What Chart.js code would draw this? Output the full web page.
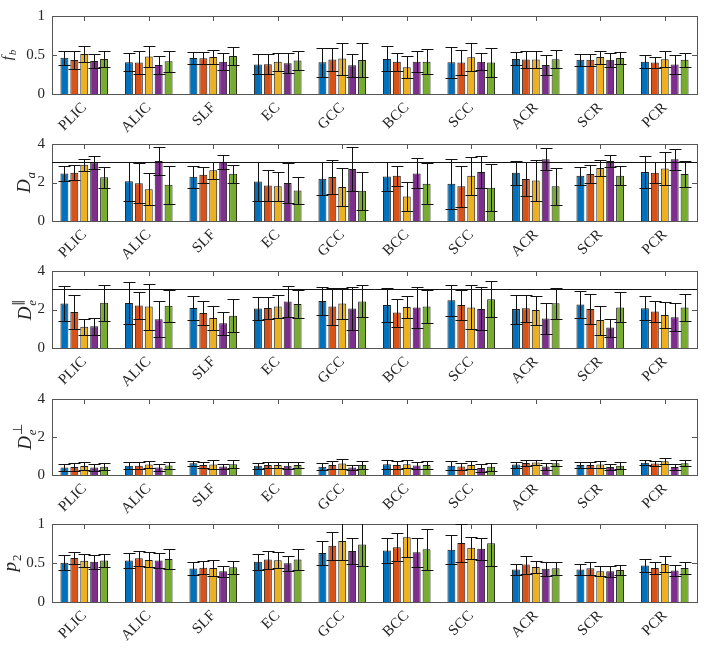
<!DOCTYPE html>
<html>
<head>
<meta charset="utf-8">
<script src="https://cdn.jsdelivr.net/npm/chart.js@4.4.0/dist/chart.umd.min.js"></script>
<style>
  body { margin: 0; background: #fff; }
  #wrap { position: relative; width: 704px; height: 650px; }
  #wrap canvas { position: absolute; left: 0; }
</style>
</head>
<body>
<div id="wrap">
  <canvas id="p1" width="704" height="134" style="top:0px"></canvas>
  <canvas id="p2" width="704" height="133" style="top:128px"></canvas>
  <canvas id="p3" width="704" height="133" style="top:255px"></canvas>
  <canvas id="p4" width="704" height="132" style="top:383px"></canvas>
  <canvas id="p5" width="704" height="134" style="top:508px"></canvas>
</div>
<script>
// regions of interest
var regions = ["PLIC", "ALIC", "SLF", "EC", "GCC", "BCC", "SCC", "ACR", "SCR", "PCR"];
var colors = ['#0072BD', '#D95319', '#EDB120', '#7E2F8E', '#77AC30'];

// f_b  (one row per method, one value per region)
var fbMean = [
  [0.466, 0.407, 0.462, 0.379, 0.407, 0.45, 0.407, 0.45, 0.439, 0.415],
  [0.435, 0.403, 0.458, 0.383, 0.443, 0.415, 0.403, 0.443, 0.439, 0.403],
  [0.514, 0.482, 0.474, 0.415, 0.455, 0.344, 0.47, 0.443, 0.474, 0.447],
  [0.423, 0.372, 0.415, 0.395, 0.368, 0.415, 0.415, 0.372, 0.439, 0.379],
  [0.45, 0.419, 0.486, 0.431, 0.435, 0.415, 0.403, 0.447, 0.462, 0.439]
];
var fbStd = [
  [0.09, 0.113, 0.077, 0.128, 0.184, 0.16, 0.2, 0.083, 0.075, 0.08],
  [0.12, 0.147, 0.077, 0.125, 0.15, 0.115, 0.162, 0.105, 0.075, 0.075],
  [0.1, 0.13, 0.09, 0.117, 0.205, 0.139, 0.18, 0.105, 0.083, 0.1],
  [0.093, 0.118, 0.105, 0.127, 0.145, 0.13, 0.108, 0.125, 0.093, 0.118],
  [0.105, 0.137, 0.118, 0.124, 0.215, 0.162, 0.188, 0.119, 0.075, 0.087]
];

// D_a
var daMean = [
  [2.47, 2.06, 2.3, 2.05, 2.2, 2.31, 1.94, 2.51, 2.35, 2.54],
  [2.51, 1.96, 2.4, 1.85, 2.28, 2.35, 1.8, 2.18, 2.44, 2.51],
  [2.92, 1.65, 2.63, 1.8, 1.77, 1.27, 2.35, 2.1, 2.75, 2.73],
  [3.05, 3.12, 3.08, 1.97, 2.7, 2.47, 2.54, 3.21, 3.12, 3.21],
  [2.27, 1.88, 2.45, 1.58, 1.57, 1.93, 1.73, 1.8, 2.35, 2.44]
];
var daStd = [
  [0.37, 1.0, 0.57, 1.01, 0.87, 0.77, 1.3, 0.63, 0.48, 0.82],
  [0.4, 1.03, 0.43, 0.81, 0.9, 0.52, 1.05, 0.87, 0.46, 0.56],
  [0.3, 0.84, 0.45, 0.77, 0.98, 0.77, 1.0, 1.07, 0.42, 0.84],
  [0.35, 0.74, 0.37, 1.03, 1.13, 0.78, 0.83, 0.58, 0.29, 0.55],
  [0.56, 1.0, 0.48, 0.68, 1.0, 1.07, 1.23, 0.97, 0.49, 0.69]
];

// D_e parallel
var dparMean = [
  [2.31, 2.34, 2.08, 2.05, 2.44, 2.23, 2.48, 2.02, 2.26, 2.06],
  [1.87, 2.21, 1.82, 2.08, 2.16, 1.84, 2.23, 2.06, 2.02, 1.9],
  [1.1, 2.15, 1.56, 2.15, 2.31, 2.13, 2.11, 1.97, 1.45, 1.71],
  [1.13, 1.5, 1.29, 2.42, 2.05, 2.1, 2.03, 1.53, 1.06, 1.6],
  [2.35, 2.19, 1.68, 2.29, 2.42, 2.16, 2.53, 2.32, 2.11, 2.1]
];
var dparStd = [
  [0.9, 1.1, 0.64, 0.62, 0.74, 0.87, 0.8, 0.75, 0.72, 0.62],
  [0.9, 0.69, 0.6, 0.59, 0.96, 0.73, 0.76, 0.69, 0.76, 0.53],
  [0.43, 1.19, 0.64, 0.58, 0.8, 0.57, 1.14, 0.75, 0.75, 0.67],
  [0.45, 0.92, 0.59, 0.82, 1.1, 1.05, 1.12, 0.8, 0.47, 0.74],
  [0.93, 0.83, 0.87, 0.71, 0.83, 0.84, 0.94, 0.79, 0.78, 0.69]
];

// D_e perpendicular
var dperpMean = [
  [0.39, 0.49, 0.62, 0.49, 0.44, 0.57, 0.49, 0.55, 0.53, 0.65],
  [0.42, 0.49, 0.53, 0.53, 0.53, 0.53, 0.45, 0.63, 0.52, 0.6],
  [0.47, 0.55, 0.55, 0.53, 0.6, 0.57, 0.52, 0.66, 0.55, 0.73],
  [0.4, 0.39, 0.45, 0.49, 0.39, 0.5, 0.37, 0.45, 0.42, 0.42],
  [0.44, 0.5, 0.57, 0.53, 0.53, 0.53, 0.44, 0.62, 0.49, 0.62]
];
var dperpStd = [
  [0.2, 0.2, 0.14, 0.16, 0.18, 0.24, 0.24, 0.16, 0.17, 0.14],
  [0.19, 0.2, 0.15, 0.18, 0.22, 0.23, 0.19, 0.16, 0.17, 0.15],
  [0.2, 0.18, 0.22, 0.16, 0.26, 0.21, 0.2, 0.14, 0.2, 0.17],
  [0.17, 0.18, 0.14, 0.18, 0.15, 0.21, 0.2, 0.19, 0.15, 0.16],
  [0.2, 0.19, 0.21, 0.16, 0.19, 0.19, 0.21, 0.17, 0.18, 0.17]
];

// p_2
var p2Mean = [
  [0.504, 0.532, 0.429, 0.516, 0.627, 0.659, 0.671, 0.417, 0.417, 0.468],
  [0.563, 0.56, 0.44, 0.544, 0.722, 0.702, 0.758, 0.48, 0.433, 0.437],
  [0.528, 0.54, 0.437, 0.536, 0.782, 0.829, 0.694, 0.448, 0.393, 0.488],
  [0.516, 0.532, 0.393, 0.496, 0.655, 0.639, 0.683, 0.425, 0.393, 0.405],
  [0.532, 0.552, 0.444, 0.544, 0.738, 0.675, 0.754, 0.433, 0.409, 0.437]
];
var p2Std = [
  [0.1, 0.097, 0.084, 0.103, 0.15, 0.16, 0.19, 0.065, 0.067, 0.085],
  [0.078, 0.1, 0.087, 0.115, 0.18, 0.18, 0.246, 0.115, 0.085, 0.08],
  [0.082, 0.097, 0.1, 0.1, 0.24, 0.254, 0.143, 0.082, 0.064, 0.1],
  [0.09, 0.093, 0.074, 0.1, 0.17, 0.185, 0.14, 0.092, 0.07, 0.07],
  [0.08, 0.13, 0.083, 0.14, 0.28, 0.26, 0.29, 0.085, 0.06, 0.08]
];

var freeDiff = 3.05; // reference line in the D_a and D_e|| panels

var serif = '"Liberation Serif", "Times New Roman", Times, serif';
var axisColor = '#262626';

// box + inward ticks, matlab style
var boxPlugin = {
  id: 'box',
  beforeDatasetsDraw: function(chart) {
    var a = chart.chartArea, ctx = chart.ctx;
    var xs = chart.scales.x, ys = chart.scales.y;
    ctx.save();
    ctx.strokeStyle = '#555';
    ctx.lineWidth = 1;
    ctx.beginPath();
    xs.ticks.forEach(function(t, i) {
      var x = Math.round(xs.getPixelForTick(i)) + 0.5;
      ctx.moveTo(x, a.top); ctx.lineTo(x, a.top + 5);
      ctx.moveTo(x, a.bottom); ctx.lineTo(x, a.bottom - 5);
    });
    ys.ticks.forEach(function(t, i) {
      var y = Math.round(ys.getPixelForTick(i)) + 0.5;
      ctx.moveTo(a.left, y); ctx.lineTo(a.left + 5, y);
      ctx.moveTo(a.right, y); ctx.lineTo(a.right - 5, y);
    });
    ctx.stroke();
    ctx.restore();
  },
  afterDatasetsDraw: function(chart) {
    var a = chart.chartArea, ctx = chart.ctx;
    ctx.save();
    ctx.strokeStyle = '#555';
    ctx.lineWidth = 1;
    ctx.strokeRect(Math.round(a.left) + 0.5, Math.round(a.top) + 0.5,
      Math.round(a.right - a.left), Math.round(a.bottom - a.top));
    ctx.restore();
  }
};

var errPlugin = {
  id: 'errbars',
  afterDatasetsDraw: function(chart) {
    var o = chart.options.plugins.errbars;
    var a = chart.chartArea, ctx = chart.ctx, ys = chart.scales.y;
    ctx.save();
    ctx.beginPath();
    ctx.rect(a.left, a.top, a.right - a.left, a.bottom - a.top);
    ctx.clip();
    if (o.ref != null) {
      var yr = Math.round(ys.getPixelForValue(o.ref)) + 0.5;
      ctx.strokeStyle = '#111';
      ctx.lineWidth = 1;
      ctx.beginPath();
      ctx.moveTo(a.left, yr); ctx.lineTo(a.right, yr);
      ctx.stroke();
    }
    ctx.strokeStyle = '#111';
    ctx.lineWidth = 1;
    chart.data.datasets.forEach(function(ds, d) {
      var meta = chart.getDatasetMeta(d);
      meta.data.forEach(function(bar, i) {
        var m = ds.data[i], s = o.std[d][i];
        var x = Math.round(bar.x) + 0.5;
        var y1 = Math.round(ys.getPixelForValue(m + s)) + 0.5;
        var y0 = Math.round(ys.getPixelForValue(m - s)) + 0.5;
        ctx.beginPath();
        ctx.moveTo(x, y0); ctx.lineTo(x, y1);
        ctx.moveTo(x - 6, y1); ctx.lineTo(x + 6, y1);
        ctx.moveTo(x - 6, y0); ctx.lineTo(x + 6, y0);
        ctx.stroke();
      });
    });
    ctx.restore();
  }
};

// y label with sub/superscripts, drawn rotated
var ylabPlugin = {
  id: 'ylab',
  afterDraw: function(chart) {
    var o = chart.options.plugins.ylab;
    var a = chart.chartArea, ctx = chart.ctx;
    var big = 'italic ' + o.size + 'px ' + serif;
    var small = (o.subItalic ? 'italic ' : '') + Math.round(o.size * 0.7) + 'px ' + serif;
    var supFont = Math.round(o.size * 0.7) + 'px ' + serif;
    ctx.save();
    ctx.fillStyle = axisColor;
    ctx.font = big;
    var wMain = ctx.measureText(o.main).width;
    ctx.font = small;
    var wSub = ctx.measureText(o.sub).width;
    var wSup = 0;
    if (o.sup) { ctx.font = supFont; wSup = ctx.measureText(o.sup).width; }
    var total = wMain + Math.max(wSub, wSup) + 1;
    ctx.translate(o.x, (a.top + a.bottom) / 2);
    ctx.rotate(-Math.PI / 2);
    ctx.textBaseline = 'alphabetic';
    ctx.textAlign = 'left';
    var x0 = -total / 2;
    ctx.font = big;
    ctx.fillText(o.main, x0, 0);
    ctx.font = small;
    ctx.fillText(o.sub, x0 + wMain + 1, o.size * 0.28);
    if (o.sup) {
      ctx.font = supFont;
      ctx.fillText(o.sup, x0 + wMain + 1, -o.size * 0.5);
    }
    ctx.restore();
  }
};

function makePanel(id, means, stds, yMax, yStep, ref, ylab) {
  var datasets = means.map(function(row, k) {
    return {
      label: 'Method ' + (k + 1),
      data: row,
      backgroundColor: colors[k],
      borderColor: '#1f1f1f',
      borderWidth: 1,
      categoryPercentage: 0.769,
      barPercentage: 0.8
    };
  });
  return new Chart(document.getElementById(id).getContext('2d'), {
    type: 'bar',
    data: { labels: regions, datasets: datasets },
    plugins: [boxPlugin, errPlugin, ylabPlugin],
    options: {
      responsive: false,
      animation: false,
      devicePixelRatio: 1,
      layout: { padding: { top: 10, right: 7, left: 0, bottom: 0 } },
      plugins: {
        legend: { display: false },
        tooltip: { enabled: false },
        errbars: { std: stds, ref: ref },
        ylab: ylab
      },
      scales: {
        x: {
          offset: true,
          grid: { display: false, drawTicks: false },
          border: { display: false },
          ticks: {
            autoSkip: false, maxRotation: 45, minRotation: 45,
            color: axisColor, padding: 5,
            font: { family: serif, size: 15 }
          },
          afterFit: function(s) { s.height = 40; }
        },
        y: {
          min: 0, max: yMax,
          grid: { display: false, drawTicks: false },
          border: { display: false },
          ticks: {
            stepSize: yStep, color: axisColor, padding: 7,
            font: { family: serif, size: 15 },
            callback: function(v) { return String(Math.round(v * 100) / 100); }
          },
          afterFit: function(s) { s.width = 52; }
        }
      }
    }
  });
}

function drawAll() {
  makePanel('p1', fbMean, fbStd, 1, 0.5, null,
    { main: 'f', sub: 'b', sup: null, size: 15, x: 12, subItalic: true });
  makePanel('p2', daMean, daStd, 4, 2, freeDiff,
    { main: 'D', sub: 'a', sup: null, size: 19, x: 30, subItalic: true });
  makePanel('p3', dparMean, dparStd, 4, 2, freeDiff,
    { main: 'D', sub: 'e', sup: '\u2225', size: 19, x: 31, subItalic: true });
  makePanel('p4', dperpMean, dperpStd, 4, 2, null,
    { main: 'D', sub: 'e', sup: '\u22A5', size: 19, x: 31, subItalic: true });
  makePanel('p5', p2Mean, p2Std, 1, 0.5, null,
    { main: 'p', sub: '2', sup: null, size: 19, x: 16, subItalic: false });
}

Promise.all([
  document.fonts.load('15px "Liberation Serif"'),
  document.fonts.load('italic 15px "Liberation Serif"')
]).then(drawAll, drawAll);
</script>
</body>
</html>
